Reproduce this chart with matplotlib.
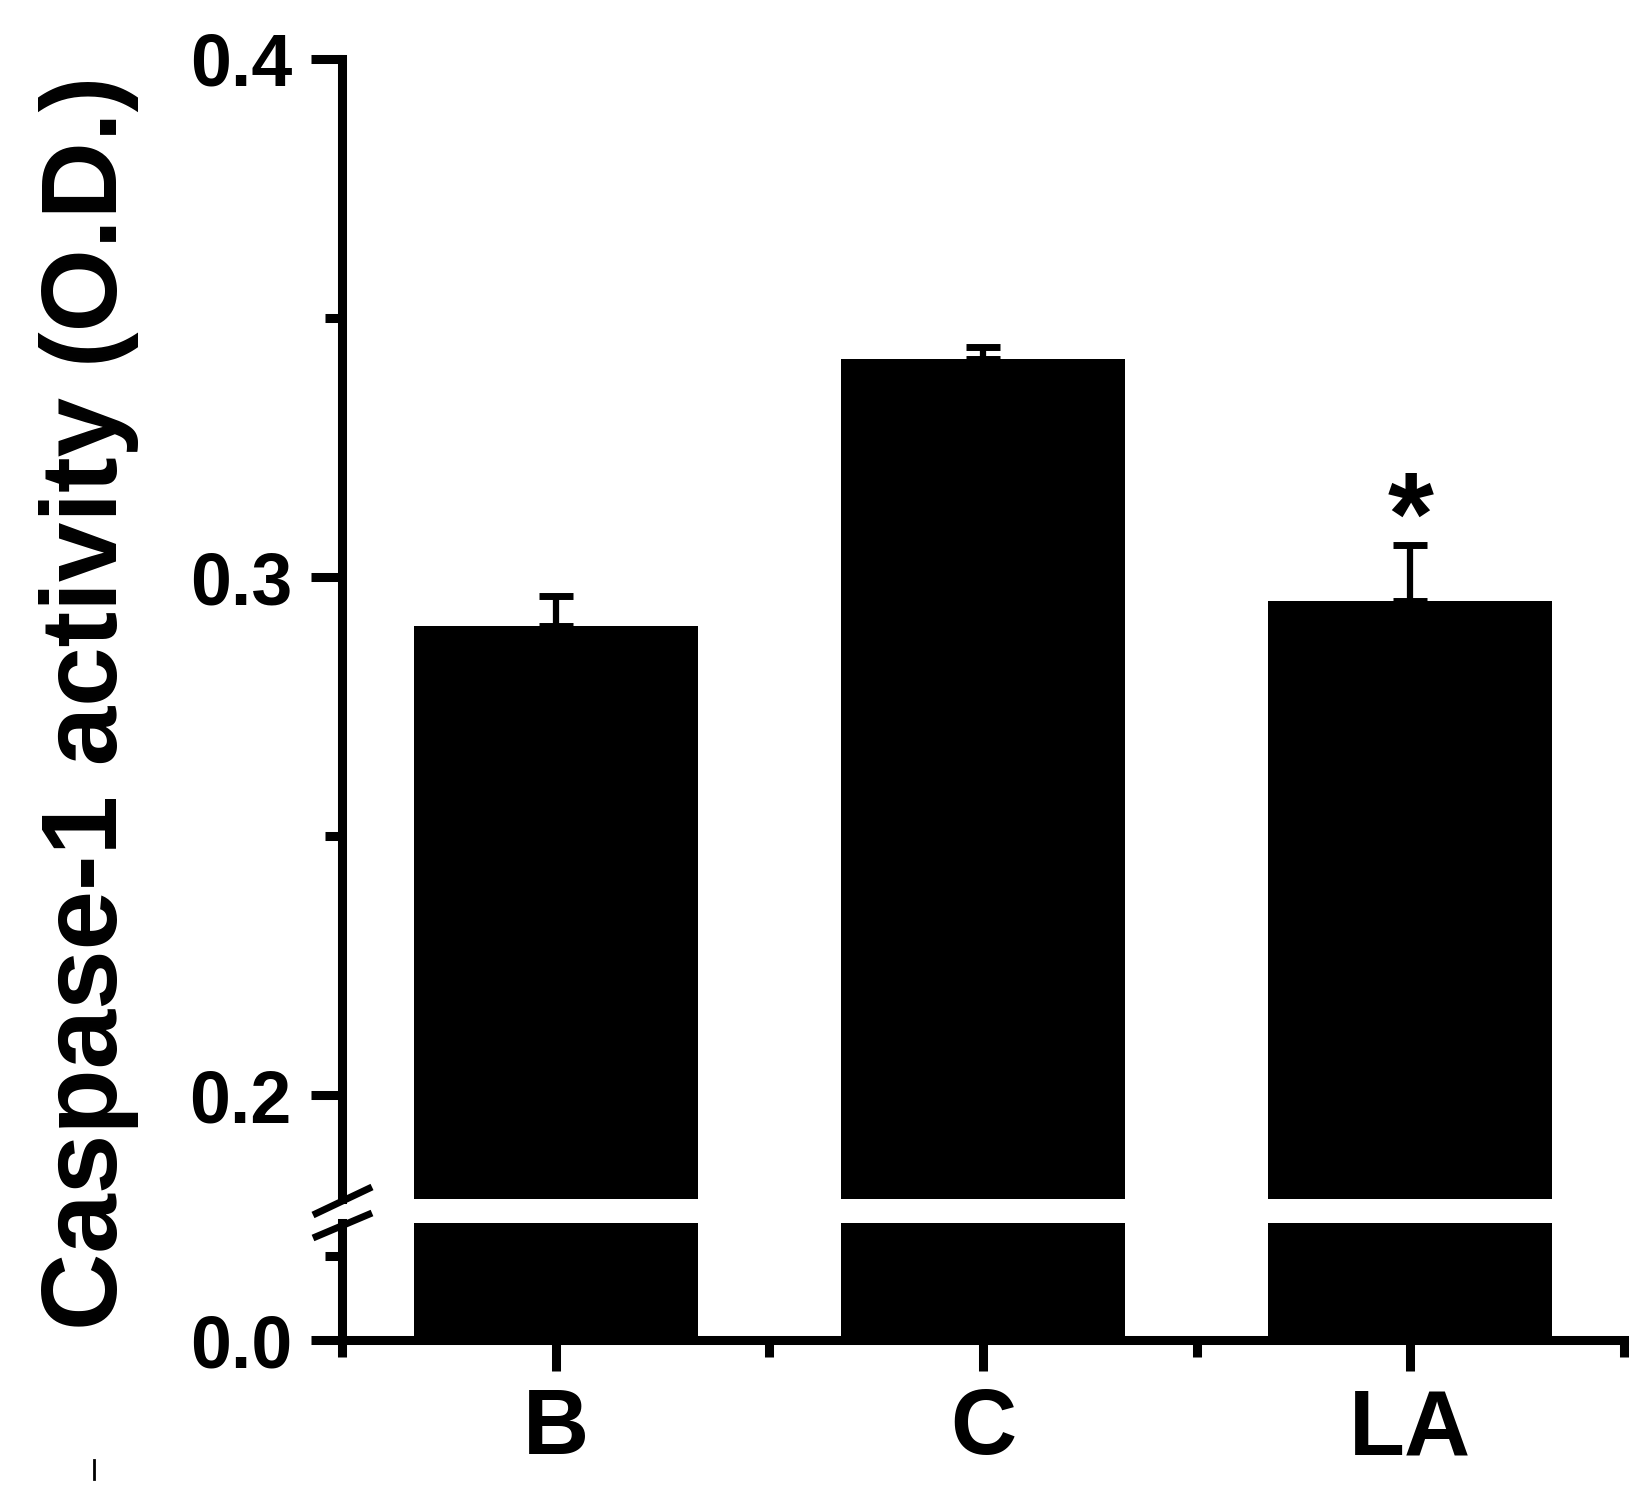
import matplotlib
matplotlib.use("Agg")
import matplotlib.pyplot as plt
from matplotlib.lines import Line2D
import numpy as np

# values
groups = ['B', 'C', 'LA']
activity = [0.2906, 0.3421, 0.2954]
err_up = [0.0058, 0.0023, 0.0109]
stars = ['', '', '*']

plt.rcParams['font.family'] = ['Liberation Sans', 'DejaVu Sans']
plt.rcParams['font.weight'] = 'bold'

fig = plt.figure(figsize=(16.5, 15.03), dpi=100)
W, H = 1650.0, 1503.0

# two stacked axes for the broken y axis (pixel edges from the reference)
left, right = 342 / W, 1624 / W
ax_top = fig.add_axes([left, 1 - 1199 / H, right - left, (1199 - 59) / H])
ax_bot = fig.add_axes([left, 1 - 1340 / H, right - left, (1340 - 1223) / H])

x = np.arange(1, len(groups) + 1)
lw = 6.5

for ax in (ax_top, ax_bot):
    ax.bar(x, activity, width=0.665, color='black', edgecolor='black', linewidth=0)
    ax.set_xlim(0.5, 3.5)
    for s in ('top', 'right'):
        ax.spines[s].set_visible(False)
    ax.spines['left'].set_linewidth(lw)
    ax.spines['bottom'].set_linewidth(lw)
    ax.tick_params(axis='both', which='major', direction='out', length=22,
                   width=lw, pad=14, labelsize=53)
    ax.tick_params(axis='both', which='minor', direction='out', length=12,
                   width=lw)

ax_top.set_ylim(0.18, 0.4)
ax_top.set_yticks([0.2, 0.3, 0.4])
ax_top.set_yticklabels(['0.2', '0.3', '0.4'])
ax_top.set_yticks([0.25, 0.35], minor=True)
ax_top.spines['bottom'].set_visible(False)
ax_top.tick_params(axis='x', which='both', bottom=False, labelbottom=False)

ax_bot.set_ylim(0, 0.07)
ax_bot.set_yticks([0.0])
ax_bot.set_yticklabels(['0.0'])
ax_bot.set_yticks([0.05], minor=True)
ax_bot.set_xticks(x)
ax_bot.set_xticks([0.5, 1.5, 2.5, 3.5], minor=True)
ax_bot.set_xticklabels(groups, family=['Liberation Sans Narrow', 'Liberation Sans'],
                       fontsize=66, fontweight='bold')
ax_bot.tick_params(axis='x', which='major', pad=12)

# error bars (upper side only) and significance star
ax_top.errorbar(x, activity, yerr=[np.zeros(len(x)), err_up], fmt='none',
                ecolor='black', elinewidth=4.5, capsize=12, capthick=5)
for xi, v, e, s in zip(x, activity, err_up, stars):
    if s:
        ax_top.text(xi, v + e - 0.0067, s, ha='center', va='bottom',
                    fontsize=85, fontweight='bold')

# break marks on the y axis
for y0, y1 in ((1215, 1187), (1238, 1213)):
    fig.add_artist(Line2D([313 / W, 372 / W], [1 - y0 / H, 1 - y1 / H],
                          color='black', linewidth=5, solid_capstyle='butt'))

# small stray stroke in the lower left corner of the original
fig.add_artist(Line2D([94 / W, 94 / W], [1 - 1460 / H, 1 - 1479 / H],
                      color='black', linewidth=2))

fig.text(0.054, 1 - 703 / H, 'Caspase-1 activity (O.D.)', rotation=90,
         ha='center', va='center', fontsize=77, fontweight='bold')

fig.savefig('out.png', dpi=100, facecolor='white')
